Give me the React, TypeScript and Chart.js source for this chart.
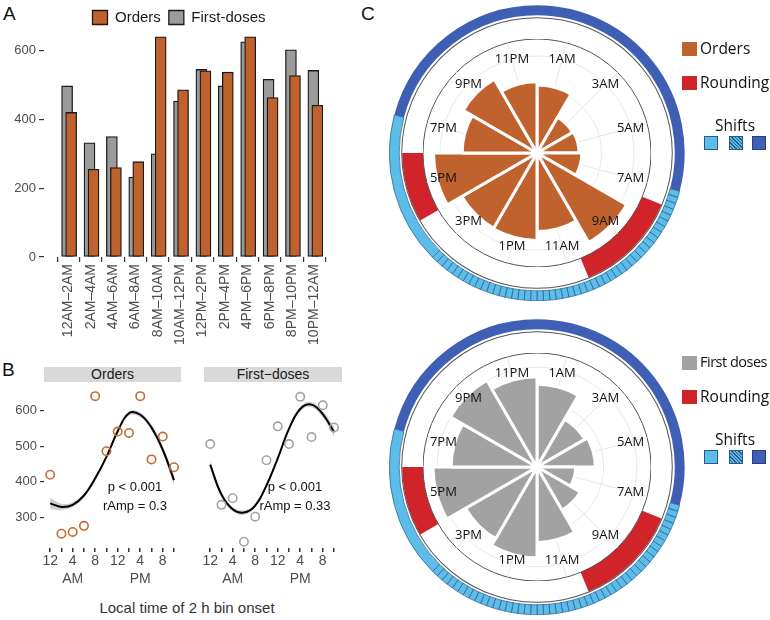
import React, { useEffect, useRef } from 'react';
import { Chart, registerables } from 'chart.js';

Chart.register(...registerables);

const SANS = '"Liberation Sans", Arial, Helvetica, sans-serif';
const MYRIAD = '"Open Sans", "Noto Sans", sans-serif';

// ---------------- data ----------------
const binLabels = ['12AM–2AM', '2AM–4AM', '4AM–6AM', '6AM–8AM', '8AM–10AM', '10AM–12PM', '12PM–2PM', '2PM–4PM', '4PM–6PM', '6PM–8PM', '8PM–10PM', '10PM–12AM'];
const orders = [420, 255, 260, 277, 640, 486, 541, 537, 640, 463, 527, 441];
const firstDoses = [497, 332, 350, 232, 300, 453, 545, 497, 625, 516, 602, 542];
const barTicks = [0, 200, 400, 600];

const binOnsetHours = [0, 2, 4, 6, 8, 10, 12, 14, 16, 18, 20, 22];
const hourTickText: { [h: number]: string | string[] } = { 0: '12', 4: ['4', 'AM'], 8: '8', 12: '12', 16: ['4', 'PM'], 20: '8' };
const scatterTicks = [300, 400, 500, 600];
const ordersFit = [340, 330, 336, 362, 410, 470, 542, 592, 588, 552, 490, 405];
const ordersFitUpper = [356, 339, 343, 368, 416, 476, 548, 598, 595, 560, 500, 419];
const ordersFitLower = [324, 321, 329, 356, 404, 464, 536, 586, 581, 544, 480, 391];
const dosesFit = [441, 360, 320, 311, 330, 385, 458, 538, 592, 604, 578, 530];
const dosesFitUpper = [453, 367, 326, 317, 336, 391, 464, 544, 598, 611, 587, 543];
const dosesFitLower = [429, 353, 314, 305, 324, 379, 452, 532, 586, 597, 569, 517];

const clockLabels = ['1AM', '3AM', '5AM', '7AM', '9AM', '11AM', '1PM', '3PM', '5PM', '7PM', '9PM', '11PM'];
const polarGrid = [0, 200, 400, 600];
const shiftBlocks = [
  { hours: 7, kind: 'night' },
  { hours: 8, kind: 'overlap' },
  { hours: 4, kind: 'day' },
  { hours: 5, kind: 'night' },
];
const roundingBlocks = [
  { hours: 7.5, on: false },
  { hours: 3, on: true },
  { hours: 5.5, on: false },
  { hours: 2, on: true },
  { hours: 6, on: false },
];

// ---------------- colours ----------------
const ORANGE = '#c0622d';
const ORANGE_PT = '#c66a32';
const GREY = '#9b9b9b';
const GREY_PT = '#a3a3a3';
const POLAR_GREY = '#a2a2a2';
const DARK_BLUE = '#3e5fb3';
const LIGHT_BLUE = '#5cbde9';
const HATCH_LINE = '#2a5a8c';
const RED = '#d1232a';

// shift the bar-chart legend so it sits centred over the plot as in the figure
const legendShift = {
  id: 'legendShift',
  afterLayout(chart: any) {
    if (chart.legend) {
      chart.legend.left += 10;
      chart.legend.right += 10;
    }
  },
};

// ---------------- configs ----------------
function barConfig(): any {
  return {
    type: 'bar',
    data: {
      datasets: [
        {
          label: 'Orders',
          data: orders.map((y, i) => ({ x: i + 0.125, y })),
          backgroundColor: ORANGE,
          borderColor: '#1a1a1a',
          borderWidth: 1.3,
          borderSkipped: false,
          barThickness: 11,
          grouped: false,
          order: 0,
        },
        {
          label: 'First-doses',
          data: firstDoses.map((y, i) => ({ x: i - 0.055, y })),
          backgroundColor: GREY,
          borderColor: '#1a1a1a',
          borderWidth: 1.3,
          borderSkipped: false,
          barThickness: 11,
          grouped: false,
          order: 1,
        },
      ],
    },
    options: {
      animation: false,
      responsive: false,
      events: [],
      layout: { padding: { left: 0, right: 12, top: 2 } },
      plugins: {
        legend: {
          position: 'top',
          labels: { boxWidth: 15, boxHeight: 14, padding: 8, color: '#1a1a1a', font: { family: SANS, size: 15 } },
        },
        tooltip: { enabled: false },
      },
      scales: {
        x: {
          type: 'linear',
          min: -0.54,
          max: 11.5,
          afterBuildTicks: (s: any) => {
            s.ticks = binLabels.map((_, i) => ({ value: i }));
          },
          ticks: {
            autoSkip: false,
            maxRotation: 90,
            minRotation: 90,
            padding: 2,
            color: '#4d4d4d',
            font: { family: SANS, size: 14 },
            callback: (v: any) => binLabels[v],
          },
          grid: { drawOnChartArea: false, tickLength: 5, color: '#333', lineWidth: 1.2 },
          border: { display: false },
          afterFit: (s: any) => {
            s.height = 95;
          },
        },
        y: {
          min: 0,
          max: 645,
          afterBuildTicks: (s: any) => {
            s.ticks = barTicks.map((v) => ({ value: v }));
          },
          ticks: { padding: 3, color: '#4d4d4d', font: { family: SANS, size: 13 } },
          grid: { drawOnChartArea: false, tickLength: 5, color: '#333', lineWidth: 1.2 },
          border: { display: false },
          afterFit: (s: any) => {
            s.width = 44;
          },
        },
      },
    },
    plugins: [legendShift],
  };
}

function scatterConfig(values: number[], fit: number[], upper: number[], lower: number[], color: string, showY: boolean): any {
  const pts = (arr: number[]) => arr.map((y, i) => ({ x: binOnsetHours[i], y }));
  return {
    type: 'line',
    data: {
      datasets: [
        {
          data: pts(values),
          showLine: false,
          pointRadius: 4.2,
          pointBorderWidth: 1.6,
          pointBorderColor: color,
          pointBackgroundColor: 'rgba(0,0,0,0)',
          order: 0,
        },
        {
          data: pts(fit),
          borderColor: '#000',
          borderWidth: 2,
          pointRadius: 0,
          tension: 0.4,
          fill: false,
          order: 1,
        },
        {
          data: pts(upper),
          borderColor: 'rgba(0,0,0,0)',
          borderWidth: 0,
          pointRadius: 0,
          tension: 0.4,
          fill: false,
          order: 2,
        },
        {
          data: pts(lower),
          borderColor: 'rgba(0,0,0,0)',
          borderWidth: 0,
          pointRadius: 0,
          tension: 0.4,
          fill: '-1',
          backgroundColor: 'rgba(150,150,150,0.45)',
          order: 3,
        },
      ],
    },
    options: {
      animation: false,
      responsive: false,
      events: [],
      layout: { padding: { left: showY ? 0 : 18, right: showY ? 5 : 4, top: 4 } },
      plugins: { legend: { display: false }, tooltip: { enabled: false } },
      scales: {
        x: {
          type: 'linear',
          min: -1.1,
          max: 23.1,
          afterBuildTicks: (s: any) => {
            s.ticks = binOnsetHours.map((h) => ({ value: h }));
          },
          ticks: {
            autoSkip: false,
            maxRotation: 0,
            padding: 0,
            color: '#4d4d4d',
            font: { family: SANS, size: 14, lineHeight: 1.3 },
            callback: (v: any) => (hourTickText[v] !== undefined ? hourTickText[v] : ''),
          },
          grid: { drawOnChartArea: false, tickLength: 4, color: '#333', lineWidth: 1.5 },
          border: { display: false },
          afterFit: (s: any) => {
            s.height = 47;
          },
        },
        y: {
          display: showY,
          min: 215,
          max: 655,
          afterBuildTicks: (s: any) => {
            s.ticks = scatterTicks.map((v) => ({ value: v }));
          },
          ticks: { padding: 3, color: '#4d4d4d', font: { family: SANS, size: 13 } },
          grid: { drawOnChartArea: false, tickLength: 4, color: '#333', lineWidth: 1.2 },
          border: { display: false },
          afterFit: (s: any) => {
            s.width = showY ? 44 : 0;
          },
        },
      },
    },
  };
}

function ringConfig(): any {
  const data: number[] = [];
  const bg: string[] = [];
  const bc: string[] = [];
  const bw: number[] = [];
  const HATCH_STEPS = 48;
  shiftBlocks.forEach((b) => {
    if (b.kind === 'overlap') {
      for (let k = 0; k < HATCH_STEPS; k++) {
        data.push(b.hours / HATCH_STEPS);
        bg.push(LIGHT_BLUE);
        bc.push(HATCH_LINE);
        bw.push(0.7);
      }
    } else {
      data.push(b.hours);
      bg.push(b.kind === 'night' ? DARK_BLUE : LIGHT_BLUE);
      bc.push(HATCH_LINE);
      bw.push(b.kind === 'night' ? 0 : 0.7);
    }
  });
  return {
    type: 'doughnut',
    data: {
      datasets: [
        { data, backgroundColor: bg, borderColor: bc, borderWidth: bw, weight: 10, hoverOffset: 0, offset: 0, hoverBorderWidth: 0 },
        { data: [24], backgroundColor: 'rgba(0,0,0,0)', borderWidth: 0, weight: 2, hoverOffset: 0, hoverBorderWidth: 0 },
        { data: [24], backgroundColor: '#555', borderWidth: 0, weight: 1, hoverOffset: 0, hoverBorderWidth: 0 },
        {
          data: roundingBlocks.map((r) => r.hours),
          backgroundColor: roundingBlocks.map((r) => (r.on ? RED : 'rgba(0,0,0,0)')),
          borderWidth: 0,
          weight: 21,
          hoverOffset: 0,
          hoverBorderWidth: 0,
        },
      ],
    },
    options: {
      animation: false,
      responsive: false,
      events: [],
      cutout: 114,
      rotation: 0,
      circumference: 360,
      plugins: { legend: { display: false }, tooltip: { enabled: false } },
    },
  };
}

const clockPlugin = {
  id: 'clockFace',
  beforeDatasetsDraw(chart: any) {
    const s = chart.scales.r;
    const ctx = chart.ctx;
    const n = chart.data.labels.length;
    ctx.save();
    ctx.strokeStyle = '#e4e4e4';
    ctx.lineWidth = 0.9;
    for (let i = 0; i < n; i++) {
      const p = s.getPointPosition(i, s.drawingArea, Math.PI / n);
      ctx.beginPath();
      ctx.moveTo(s.xCenter, s.yCenter);
      ctx.lineTo(p.x, p.y);
      ctx.stroke();
    }
    ctx.restore();
  },
  afterDatasetsDraw(chart: any) {
    const s = chart.scales.r;
    const ctx = chart.ctx;
    const labels = chart.data.labels;
    const n = labels.length;
    ctx.save();
    ctx.fillStyle = '#111';
    ctx.font = '13px ' + MYRIAD;
    ctx.textAlign = 'center';
    ctx.textBaseline = 'middle';
    for (let i = 0; i < n; i++) {
      const p = s.getPointPosition(i, s.drawingArea * 0.85, Math.PI / n);
      ctx.fillText(labels[i], p.x, p.y);
    }
    ctx.restore();
  },
};

function polarConfig(values: number[], color: string, rMax: number): any {
  return {
    type: 'polarArea',
    data: {
      labels: clockLabels,
      datasets: [{ data: values, backgroundColor: color, borderColor: '#ffffff', borderWidth: 3 }],
    },
    options: {
      animation: false,
      responsive: false,
      events: [],
      plugins: { legend: { display: false }, tooltip: { enabled: false } },
      scales: {
        r: {
          min: 0,
          max: rMax,
          startAngle: 0,
          afterBuildTicks: (s: any) => {
            s.ticks = [...polarGrid, rMax].map((v) => ({ value: v }));
          },
          ticks: { display: false },
          angleLines: { display: false },
          pointLabels: { display: false },
          grid: {
            circular: true,
            color: (c: any) => (c.tick && c.tick.value === rMax ? '#555' : '#e6e6e6'),
            lineWidth: (c: any) => (c.tick && c.tick.value === rMax ? 1 : 0.9),
          },
        },
      },
    },
    plugins: [clockPlugin],
  };
}

// ---------------- components ----------------
function ChartBox(props: { make: () => any; left: number; top: number; width: number; height: number }) {
  const ref = useRef<HTMLCanvasElement>(null);
  useEffect(() => {
    const chart = new Chart(ref.current as HTMLCanvasElement, props.make());
    return () => chart.destroy();
  }, []);
  return (
    <canvas
      ref={ref}
      width={props.width}
      height={props.height}
      style={{ position: 'absolute', left: props.left, top: props.top, width: props.width, height: props.height }}
    />
  );
}

function Txt(props: { left: number; top: number; size: number; text: string; family?: string; width?: number; align?: any; color?: string; spacing?: number }) {
  return (
    <div
      style={{
        position: 'absolute',
        left: props.left,
        top: props.top,
        width: props.width,
        textAlign: props.align || 'left',
        fontSize: props.size,
        lineHeight: 1,
        fontFamily: props.family || SANS,
        color: props.color || '#111',
        whiteSpace: 'nowrap',
        letterSpacing: props.spacing || 0,
      }}
    >
      {props.text}
    </div>
  );
}

function Square(props: { left: number; top: number; bg: string; w?: number; h?: number; border?: string }) {
  return (
    <div
      style={{
        position: 'absolute',
        left: props.left,
        top: props.top,
        width: props.w || 15,
        height: props.h || 14,
        background: props.bg,
        boxSizing: 'border-box',
        border: props.border || 'none',
      }}
    />
  );
}

const HATCH_CSS = 'repeating-linear-gradient(45deg, ' + LIGHT_BLUE + ' 0px, ' + LIGHT_BLUE + ' 1.5px, ' + HATCH_LINE + ' 1.5px, ' + HATCH_LINE + ' 2.5px)';

function PolarLegend(props: { cy: number; first: string; firstColor: string; firstSize: number; firstSpacing: number }) {
  const cy = props.cy;
  return (
    <>
      <Square left={682} top={cy - 111} bg={props.firstColor} />
      <Txt left={700} top={cy - 112} size={props.firstSize} spacing={props.firstSpacing} family={MYRIAD} text={props.first} />
      <Square left={682} top={cy - 77} bg={RED} />
      <Txt left={700} top={cy - 78} size={15.5} family={MYRIAD} text="Rounding" />
      <Txt left={705} top={cy - 35} width={60} align="center" size={15.5} family={MYRIAD} text="Shifts" />
      <Square left={704} top={cy - 17} bg={LIGHT_BLUE} w={14} h={14} border={'1px solid ' + HATCH_LINE} />
      <Square left={729} top={cy - 17} bg={HATCH_CSS} w={14} h={14} border={'1px solid ' + HATCH_LINE} />
      <Square left={752} top={cy - 17} bg={DARK_BLUE} w={14} h={14} border={'1px solid #2a4080'} />
    </>
  );
}

export default function App() {
  return (
    <div style={{ position: 'absolute', left: 0, top: 0, width: 770, height: 620, background: '#fff', overflow: 'hidden' }}>
      {/* Panel A */}
      <Txt left={3} top={4} size={19} text="A" />
      <ChartBox make={barConfig} left={0} top={0} width={350} height={352} />

      {/* Panel B */}
      <Txt left={2} top={360} size={19} text="B" />
      <div style={{ position: 'absolute', left: 44, top: 367, width: 137, height: 15, background: '#d9d9d9', textAlign: 'center', fontFamily: SANS, fontSize: 14, lineHeight: '15px', color: '#1a1a1a' }}>Orders</div>
      <div style={{ position: 'absolute', left: 204, top: 367, width: 138, height: 15, background: '#d9d9d9', textAlign: 'center', fontFamily: SANS, fontSize: 14, lineHeight: '15px', color: '#1a1a1a' }}>First−doses</div>
      <ChartBox make={() => scatterConfig(orders, ordersFit, ordersFitUpper, ordersFitLower, ORANGE_PT, true)} left={0} top={380} width={186} height={215} />
      <ChartBox make={() => scatterConfig(firstDoses, dosesFit, dosesFitUpper, dosesFitLower, GREY_PT, false)} left={186} top={380} width={160} height={215} />
      <Txt left={85} top={480} width={100} align="center" size={13} text="p < 0.001" />
      <Txt left={85} top={499} width={100} align="center" size={13} text="rAmp = 0.3" />
      <Txt left={245} top={480} width={100} align="center" size={13} text="p < 0.001" />
      <Txt left={245} top={499} width={100} align="center" size={13} text="rAmp = 0.33" />
      <Txt left={37} top={600} width={300} align="center" size={15} color="#333" text="Local time of 2 h bin onset" />

      {/* Panel C */}
      <Txt left={361} top={4} size={19} text="C" />
      <ChartBox make={ringConfig} left={389} top={5} width={296} height={296} />
      <ChartBox make={() => polarConfig(orders, ORANGE, 705)} left={423} top={39} width={228} height={228} />
      <PolarLegend cy={153} first="Orders" firstColor={ORANGE} firstSize={15.5} firstSpacing={0} />

      <ChartBox make={ringConfig} left={389} top={319} width={296} height={296} />
      <ChartBox make={() => polarConfig(firstDoses, POLAR_GREY, 685)} left={423} top={353} width={228} height={228} />
      <PolarLegend cy={467} first="First doses" firstColor={POLAR_GREY} firstSize={14.5} firstSpacing={-0.5} />
    </div>
  );
}
